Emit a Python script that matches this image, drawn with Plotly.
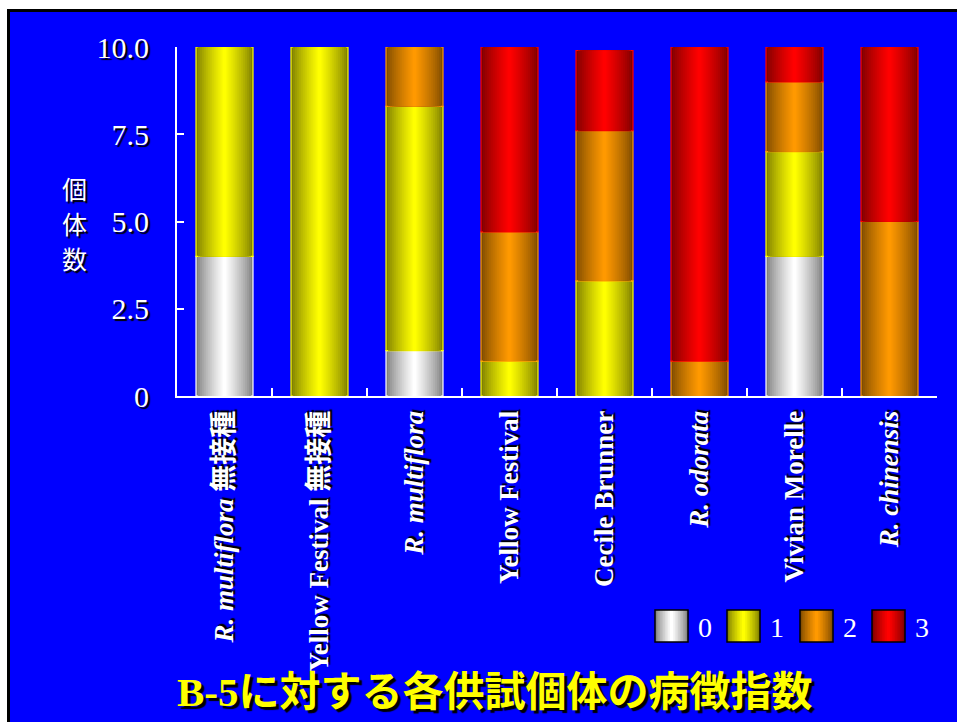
import plotly.graph_objects as go

categories = [
    "<i>R. multiflora</i> 無接種",
    "Yellow Festival 無接種",
    "<i>R. multiflora</i>",
    "Yellow Festival",
    "Cecile Brunner",
    "<i>R. odorata</i>",
    "Vivian Morelle",
    "<i>R. chinensis</i>",
]
series_names = ["0", "1", "2", "3"]
idx0 = [4.0, 0.0, 1.3, 0.0, 0.0, 0.0, 4.0, 0.0]
idx1 = [6.0, 10.0, 7.0, 1.0, 3.3, 0.0, 3.0, 0.0]
idx2 = [0.0, 0.0, 1.7, 3.7, 4.3, 1.0, 2.0, 5.0]
idx3 = [0.0, 0.0, 0.0, 5.3, 2.3, 9.0, 1.0, 5.0]
series_values = [idx0, idx1, idx2, idx3]

y_ticks = [0, 2.5, 5.0, 7.5, 10.0]
y_tick_labels = ["0", "2.5", "5.0", "7.5", "10.0"]
y_title_chars = ["個", "体", "数"]

# (dark edge colour, bright centre colour) per severity index
edge_cols = [(128, 128, 128), (128, 128, 0), (128, 76, 0), (128, 0, 0)]
centre_cols = [(255, 255, 255), (255, 255, 0), (255, 153, 0), (255, 0, 0)]

BLUE = "#0000FF"
N = 14
BAR_W = 0.6


def mix(a, b, t):
    return "rgb(%d,%d,%d)" % tuple(round(a[i] + (b[i] - a[i]) * t) for i in range(3))


fig = go.Figure()
base = [0.0] * len(categories)
for s, vals in enumerate(series_values):
    yv = [v if v > 0 else None for v in vals]
    for k in range(N):
        t = k / (N - 1)
        w = BAR_W * (1 - k / N)
        col = mix(edge_cols[s], centre_cols[s], t ** 0.8)
        fig.add_trace(go.Bar(
            x=categories, y=yv, base=list(base), width=w,
            marker=dict(color=col,
                        line=dict(color=mix(edge_cols[s], centre_cols[s], 1.0) if k == 0 else col,
                                  width=1.2 if k == 0 else 0)),
            showlegend=False, hoverinfo="skip",
        ))
    base = [base[i] + vals[i] for i in range(len(vals))]

# --- page frame: white margin, black border, blue panel ---
PX_L, PX_R, PX_T, PX_B = 177, 937, 47, 396
W_PX = PX_R - PX_L
H_PX = PX_B - PX_T


def px_x(px):
    return (px - PX_L) / W_PX


def px_y(py):
    return (PX_B - py) / H_PX


shapes = [dict(type="rect", xref="paper", yref="paper",
               x0=px_x(8.5), x1=px_x(980), y0=px_y(760), y1=px_y(10.5),
               fillcolor=BLUE, line=dict(color="black", width=3), layer="below")]

# --- custom legend (gradient squares) ---
annotations = []
leg_x0 = [655, 727, 800, 872]
for s in range(4):
    x0 = leg_x0[s]
    x1 = x0 + 33
    y0, y1 = 610, 642
    steps = 10
    for k in range(steps):
        frac = k / steps
        half = (x1 - x0) / 2 * (1 - frac)
        cx = (x0 + x1) / 2
        shapes.append(dict(type="rect", xref="paper", yref="paper",
                           x0=px_x(cx - half), x1=px_x(cx + half),
                           y0=px_y(y1), y1=px_y(y0),
                           fillcolor=mix(edge_cols[s], centre_cols[s], (k / (steps - 1)) ** 0.8),
                           line=dict(width=0), layer="above"))
    shapes.append(dict(type="rect", xref="paper", yref="paper",
                       x0=px_x(x0), x1=px_x(x1), y0=px_y(y1), y1=px_y(y0),
                       fillcolor="rgba(0,0,0,0)", line=dict(color="black", width=1.5), layer="above"))
    annotations.append(dict(text=series_names[s], xref="paper", yref="paper",
                            x=px_x(x1 + 17), y=px_y(627), showarrow=False,
                            xanchor="center", yanchor="middle",
                            font=dict(family="Liberation Serif", size=28, color="white")))

# y-axis title (vertical characters)
for i, ch in enumerate(y_title_chars):
    annotations.append(dict(text=ch, xref="paper", yref="paper",
                            x=px_x(74), y=px_y(188 + 35 * i), showarrow=False,
                            xanchor="center", yanchor="middle", borderpad=0,
                            font=dict(family="Noto Sans CJK JP", size=25, color="white",
                                      shadow="2px 2px 1px black")))
# chart title at bottom
annotations.append(dict(text="<b>B-5に対する各供試個体の病徴指数</b>", xref="paper", yref="paper",
                        x=px_x(495), y=px_y(692), showarrow=False,
                        xanchor="center", yanchor="middle",
                        font=dict(family="Liberation Serif, Noto Sans CJK JP", size=41,
                                  color="#FFFF00", shadow="3px 3px 1px black")))

fig.update_layout(
    width=957, height=722,
    margin=dict(l=PX_L, r=957 - PX_R, t=PX_T, b=722 - PX_B, autoexpand=False),
    paper_bgcolor="white", plot_bgcolor=BLUE,
    barmode="overlay",
    shapes=shapes, annotations=annotations,
    showlegend=False,
    xaxis=dict(
        type="category", categoryorder="array", categoryarray=categories,
        tickvals=categories, ticktext=["<b>%s</b>" % c for c in categories],
        tickangle=-90, tickson="boundaries", ticks="inside", ticklen=8,
        tickcolor="white", tickwidth=2, showline=True, linecolor="white", linewidth=2,
        showgrid=False, zeroline=False, ticklabelstandoff=2,
        tickfont=dict(family="Liberation Serif, Noto Sans CJK JP", size=27, color="white",
                      shadow="2px 2px 1px black"),
        range=[-0.5, len(categories) - 0.5],
    ),
    yaxis=dict(
        range=[0, 10], tickvals=y_ticks, ticktext=y_tick_labels,
        ticks="inside", ticklen=7, tickcolor="white", tickwidth=2,
        showline=True, linecolor="white", linewidth=2,
        showgrid=False, zeroline=False, ticklabelstandoff=20,
        tickfont=dict(family="Liberation Serif", size=30, color="white", weight="normal",
                      shadow="2px 2px 1px black"),
    ),
)

fig.write_html("out.html")
